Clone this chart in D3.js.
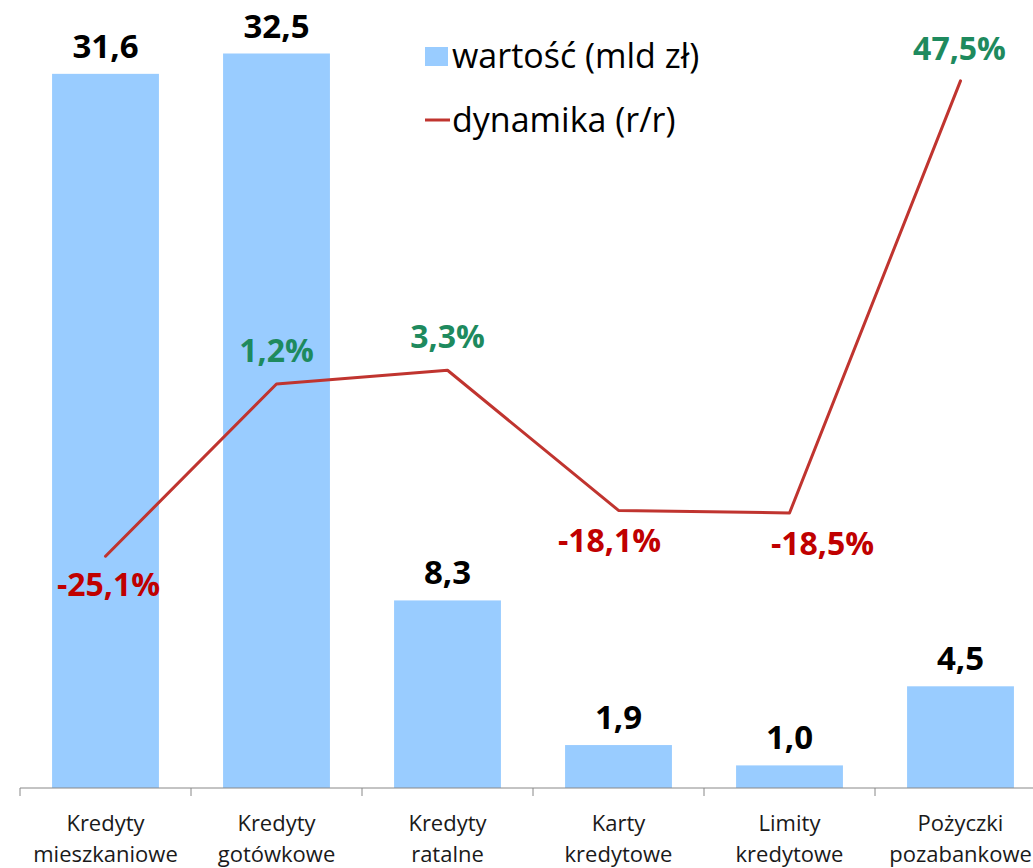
<!DOCTYPE html>
<html>
<head>
<meta charset="utf-8">
<script src="https://cdn.jsdelivr.net/npm/d3@7.9.0/dist/d3.min.js"></script>
<style>
  body { margin: 0; background: #fff; }
  svg { display: block; font-family: "Open Sans", "Noto Sans", sans-serif; }
</style>
</head>
<body>
<svg id="chart" width="1033" height="868"></svg>
<script>
// ===== DATA =====
const categories = [
  ["Kredyty", "mieszkaniowe"],
  ["Kredyty", "gotówkowe"],
  ["Kredyty", "ratalne"],
  ["Karty", "kredytowe"],
  ["Limity", "kredytowe"],
  ["Pożyczki", "pozabankowe"]
];
const values = [31.6, 32.5, 8.3, 1.9, 1.0, 4.5];        // wartość (mld zł)
const dynamics = [-25.1, 1.2, 3.3, -18.1, -18.5, 47.5];  // dynamika (r/r), %
const legendLabels = ["wartość (mld zł)", "dynamika (r/r)"];

const fmt = v => v.toFixed(1).replace(".", ",");

const svg = d3.select("#chart");
const margin = { top: 0, right: 0, bottom: 80, left: 20 };
const width = 1026;          // 6 bands of ~171 px, last one runs off the edge
const baseY = 788;

const x = d3.scaleBand()
  .domain(d3.range(categories.length))
  .range([margin.left, margin.left + width])
  .paddingInner(0.375)
  .paddingOuter(0.1875);

const y = d3.scaleLinear().domain([0, 35]).range([baseY, -3]);
const y2 = d3.scaleLinear().domain([-60.5, 60]).range([baseY, -1]);

// ===== BARS =====
svg.append("g").selectAll("rect")
  .data(values)
  .join("rect")
  .attr("x", (d, i) => x(i))
  .attr("y", d => y(d))
  .attr("width", x.bandwidth())
  .attr("height", d => baseY - y(d))
  .attr("fill", "#99ccff");

svg.append("g").selectAll("text")
  .data(values)
  .join("text")
  .attr("x", (d, i) => x(i) + x.bandwidth() / 2)
  .attr("y", d => y(d) - 16)
  .attr("text-anchor", "middle")
  .attr("font-size", "33px")
  .attr("font-weight", "bold")
  .attr("fill", "#000")
  .text(fmt);

// ===== AXIS =====
const axisG = svg.append("g").attr("transform", `translate(0,${baseY})`);
axisG.append("line")
  .attr("x1", margin.left).attr("x2", 1033)
  .attr("stroke", "#888").attr("stroke-width", 1);
const step = x.step();
axisG.selectAll(".tick")
  .data(d3.range(categories.length + 1))
  .join("line")
  .attr("class", "tick")
  .attr("x1", i => margin.left + i * step)
  .attr("x2", i => margin.left + i * step)
  .attr("y1", 0).attr("y2", 8)
  .attr("stroke", "#888");

// two-line category labels, one text element per line
[0, 1].forEach(j => {
  svg.append("g").selectAll("text")
    .data(categories)
    .join("text")
    .attr("x", (d, i) => x(i) + x.bandwidth() / 2)
    .attr("y", baseY + 43 + j * 31)
    .attr("text-anchor", "middle")
    .attr("font-size", "22px")
    .attr("fill", "#1a1a1a")
    .text(d => d[j]);
});

// ===== LINE =====
const cx = i => x(i) + x.bandwidth() / 2;
const line = d3.line()
  .x((d, i) => cx(i))
  .y(d => y2(d));

svg.append("path")
  .datum(dynamics)
  .attr("fill", "none")
  .attr("stroke", "#c0342f")
  .attr("stroke-width", 3)
  .attr("stroke-linejoin", "round")
  .attr("stroke-linecap", "round")
  .attr("d", line);

// label nudges (layout only)
const nudgeX = [3, 0, 0, -9, 33, -1];
const nudgeY = [40, -22, -22, 42, 42, -21];

svg.append("g").selectAll("text")
  .data(dynamics)
  .join("text")
  .attr("x", (d, i) => cx(i) + nudgeX[i])
  .attr("y", (d, i) => y2(d) + nudgeY[i])
  .attr("text-anchor", "middle")
  .attr("font-size", "32px")
  .attr("font-weight", "bold")
  .attr("fill", d => d >= 0 ? "#1e8a5e" : "#c00000")
  .text(d => fmt(d) + "%");

// ===== LEGEND =====
const legend = svg.append("g").attr("transform", "translate(425,0)");
legend.append("rect")
  .attr("x", 0).attr("y", 47)
  .attr("width", 23).attr("height", 19)
  .attr("fill", "#99ccff");
legend.append("text")
  .attr("x", 27).attr("y", 68)
  .attr("font-size", "34px")
  .attr("fill", "#000")
  .text(legendLabels[0]);
legend.append("line")
  .attr("x1", 0).attr("x2", 25)
  .attr("y1", 120).attr("y2", 120)
  .attr("stroke", "#c0342f")
  .attr("stroke-width", 3);
legend.append("text")
  .attr("x", 27).attr("y", 132)
  .attr("font-size", "34px")
  .attr("fill", "#000")
  .text(legendLabels[1]);
</script>
</body>
</html>
